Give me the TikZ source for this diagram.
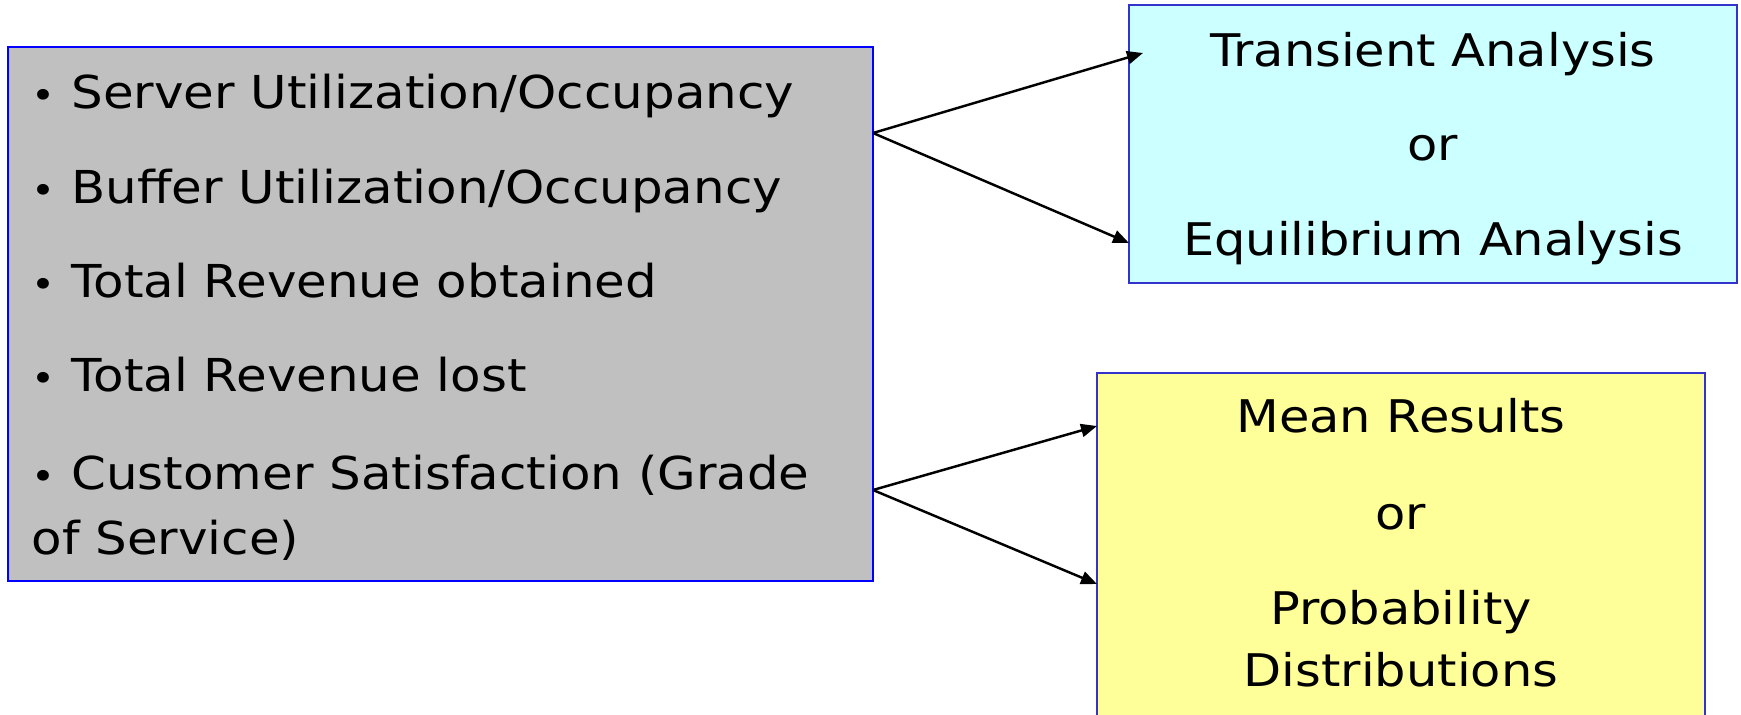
\documentclass[tikz,border=0pt]{standalone}
\usepackage{fontspec}
\setmainfont{DejaVu Sans}[FakeStretch=1.1]
\usetikzlibrary{arrows.meta}

\definecolor{boxgray}{HTML}{C0C0C0}
\definecolor{boxcyan}{HTML}{CCFFFF}
\definecolor{boxyellow}{HTML}{FFFF99}
\definecolor{edgeblue}{HTML}{0000FF}
\definecolor{edgeslate}{HTML}{3333CC}

\newcommand{\itemdot}{{\fontsize{10.5}{10.5}\selectfont •}\hspace{0.35em}}

\tikzset{
  panel/.style={rectangle, inner sep=0pt, line width=0.8pt},
  item/.style={anchor=base west, inner sep=0pt, font=\fontsize{12.9}{15}\selectfont},
  label/.style={anchor=base, inner sep=0pt, font=\fontsize{12.8}{15}\selectfont},
  link/.style={line width=0.7pt, -{Triangle[length=1.6mm,width=1.3mm]}}
}

\begin{document}
\begin{tikzpicture}[x=0.1mm, y=-0.1mm]
  \clip (0,0) rectangle (1741,714);
  \fill[white] (0,0) rectangle (1741,714);

  % panels
  \node[panel, draw=edgeblue, fill=boxgray, minimum width=86.5mm, minimum height=53.4mm] (measures) at (440.5,314) {};
  \node[panel, draw=edgeslate, fill=boxcyan, minimum width=60.8mm, minimum height=27.8mm] (analysis) at (1433,144) {};
  \node[panel, draw=edgeslate, fill=boxyellow, minimum width=60.8mm, minimum height=35.7mm] (results) at (1401,551.5) {};

  % performance measures
  \node[item] (m1) at (31,108) {\itemdot Server Utilization/Occupancy};
  \node[item] (m2) at (31,203) {\itemdot Buffer Utilization/Occupancy};
  \node[item] (m3) at (31,297) {\itemdot Total Revenue obtained};
  \node[item] (m4) at (31,391) {\itemdot Total Revenue lost};
  \node[item] (m5) at (31,489) {\itemdot Customer Satisfaction (Grade};
  \node[item] (m6) at (31,554) {of Service)};

  % analysis type
  \node[label] (a1) at (1433,66) {Transient Analysis};
  \node[label] (a2) at (1433,160) {or};
  \node[label] (a3) at (1433,255) {Equilibrium Analysis};

  % kind of results
  \node[label] (r1) at (1401,432) {Mean Results};
  \node[label] (r2) at (1401,529) {or};
  \node[label] (r3) at (1401,624) {Probability};
  \node[label] (r4) at (1401,686) {Distributions};

  % connector ends
  \coordinate (s1) at (873,133);
  \coordinate (s2) at (873,490);
  \coordinate (t1) at (1143,53);
  \coordinate (t2) at (1129,243);
  \coordinate (t3) at (1097,426);
  \coordinate (t4) at (1097,584);

  \draw[link] (s1) -- (t1);
  \draw[link] (s1) -- (t2);
  \draw[link] (s2) -- (t3);
  \draw[link] (s2) -- (t4);
\end{tikzpicture}
\end{document}
